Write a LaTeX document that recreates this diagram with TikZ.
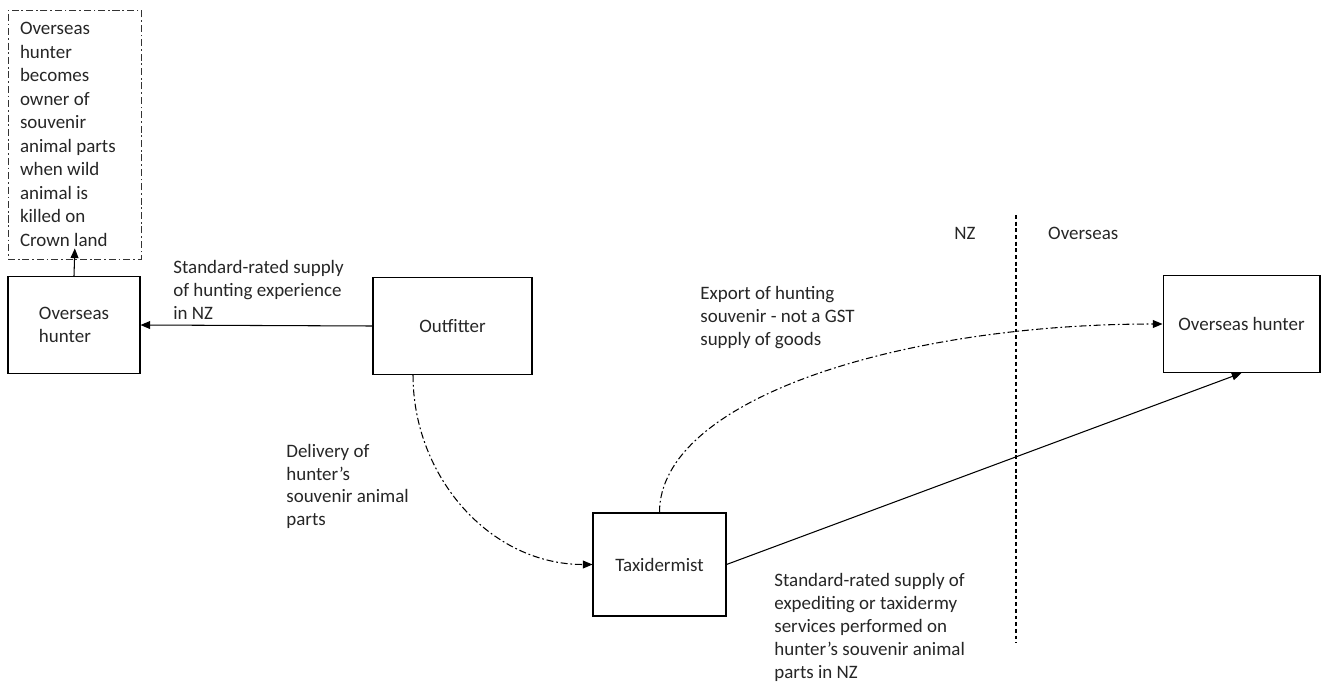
\documentclass[tikz,border=0pt]{standalone}
\usepackage{fontspec}
\setmainfont{Carlito}
\usetikzlibrary{arrows.meta, positioning}

\begin{document}
\begin{tikzpicture}[
  x=0.02cm, y=0.02cm,
  every node/.style={font=\fontsize{10.8}{13}\selectfont, text=black!85},
  party/.style={
    rectangle, draw=black, line width=0.6pt, align=left, inner sep=0pt
  },
  owner/.style={
    rectangle, draw=black!80, line width=0.5pt,
    dash pattern=on 4pt off 1.6pt on 1pt off 1.6pt,
    minimum width=2.66cm, minimum height=4.98cm, text width=2.18cm,
    inner xsep=0.24cm, inner ysep=0pt, align=flush left,
    font=\fontsize{10.8}{13.4}\selectfont
  },
  lbl/.style={align=left, inner sep=0pt},
  link/.style={-{Triangle[length=5.5pt, width=4.5pt]}, line width=0.6pt},
  flow/.style={link, dash pattern=on 4pt off 1.6pt on 1pt off 1.6pt},
  border/.style={line width=0.6pt, dash pattern=on 2.2pt off 1.6pt}
]
\useasboundingbox (0,0) rectangle (1322,-686);

\node[party, minimum width=2.64cm, minimum height=1.94cm] (H1) at (74,-325)     {Overseas\\hunter};
\node[party, minimum width=3.18cm, minimum height=1.94cm] (O)  at (452.5,-326)  {Outfitter};
\node[party, minimum width=2.66cm, minimum height=2.06cm] (T)  at (659.5,-564.5) {Taxidermist};
\node[party, minimum width=3.14cm, minimum height=1.94cm] (H2) at (1241.5,-324) {Overseas hunter};

\node[owner] (N) at (74.5,-134.5) {Overseas\\hunter\\becomes\\owner of\\souvenir\\animal parts\\when wild\\animal is\\killed on\\Crown land};

% NZ / overseas divide
\coordinate (dtop) at (1016,-215);
\coordinate (dbot) at (1016,-643);
\draw[border] (dtop) -- (dbot);
\node (nz) at (965,-233) {NZ};
\node[anchor=west] (os) at (1042,-233) {Overseas};

\node[lbl, anchor=west] (l1) at (173,-290)   {Standard-rated supply\\of hunting experience\\in NZ};
\node[lbl, anchor=west] (l2) at (286,-486.5) {Delivery of\\hunter’s\\souvenir animal\\parts};
\node[lbl, anchor=west] (l3) at (700,-317.5) {Export of hunting\\souvenir - not a GST\\supply of goods};
\node[lbl, anchor=west] (l4) at (774,-627.5) {Standard-rated supply of\\expediting or taxidermy\\services performed on\\hunter’s souvenir animal\\parts in NZ};

\draw[link] (O.west) -- (H1.east);
\draw[link, shorten >=-0.22cm] (H1.north) -- (N.south);
\draw[flow] ([xshift=-0.79cm]O.south) to[out=-90, in=180] (T.west);
\draw[flow] (T.north) to[out=90, in=180, out distance=2.26cm, in distance=5.26cm] (H2.west);
\draw[link] (T.east) -- (H2.south);
\end{tikzpicture}
\end{document}
